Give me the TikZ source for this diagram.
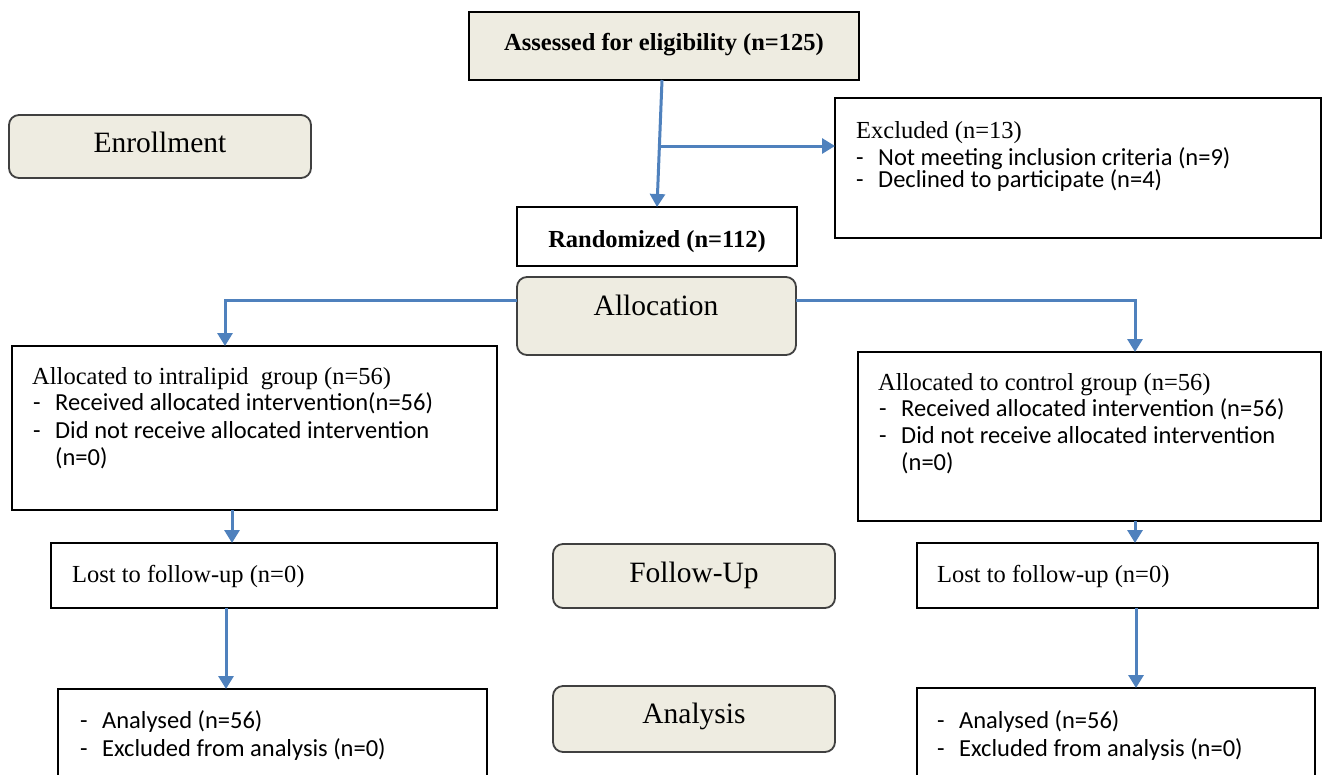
\documentclass[tikz,border=0pt]{standalone}
\usepackage{fontspec}
\setmainfont{Liberation Serif}
\newfontfamily\calfont{Carlito}
\usetikzlibrary{arrows.meta,fit,calc}
\definecolor{beige}{HTML}{EEECE1}
\definecolor{arrblue}{HTML}{4F81BD}
\tikzset{
  box/.style={draw=black, line width=2.4pt, inner sep=0pt, outer sep=0pt, fill=white},
  stagebox/.style={draw=black!75, line width=1.8pt, rounded corners=10pt, fill=beige, inner sep=0pt, outer sep=0pt},
  tanbox/.style={draw=black, line width=2.4pt, fill=beige, inner sep=0pt, outer sep=0pt},
  arr/.style={draw=arrblue, line width=3pt, -{Triangle[width=15pt,length=13pt]}},
  ser/.style={inner sep=0pt, anchor=base west, font=\fontsize{24.5}{26}\selectfont},
  bld/.style={inner sep=0pt, anchor=base, font=\fontsize{24.5}{26}\selectfont\bfseries},
  stage/.style={inner sep=0pt, anchor=base, font=\fontsize{29.5}{32}\selectfont},
  cal/.style={inner sep=0pt, anchor=base west, font=\fontsize{24.5}{26}\selectfont\calfont},
}
\newcommand{\dashitem}[1]{\makebox[22pt][l]{-}#1}
\begin{document}
\begin{tikzpicture}[x=1pt,y=-1pt]
\useasboundingbox (0,0) rectangle (1324,774);
\clip (0,0) rectangle (1324,774);
\fill[white] (0,0) rectangle (1324,774);

% boxes
\node[tanbox, fit={(469,12) (859,80)}] (as) {};
\node[stagebox, fit={(9,115) (311,178)}] (enr) {};
\node[box, fit={(835,98) (1321,238)}] (exc) {};
\node[box, fit={(517,207) (797,266)}] (rand) {};
\node[stagebox, fit={(517,277) (796,355)}] (alloc) {};
\node[box, fit={(12,346) (497,510)}] (intra) {};
\node[box, fit={(858,352) (1321,521)}] (ctrl) {};
\node[box, fit={(51,543) (497,608)}] (lostL) {};
\node[stagebox, fit={(553,544) (835,608)}] (fu) {};
\node[box, fit={(917,543) (1318,608)}] (lostR) {};
\node[box, fit={(58,689) (487,800)}] (anL) {};
\node[stagebox, fit={(553,686) (835,752)}] (ana) {};
\node[box, fit={(917,688) (1315,800)}] (anR) {};

% texts
\node[bld] (tas) at (664,50) {Assessed for eligibility (n=125)};
\node[bld] (trand) at (657,247) {Randomized (n=112)};
\node[stage] (tenr) at (160,152) {Enrollment};
\node[stage] (talloc) at (656,315) {Allocation};
\node[stage] (tfu) at (694,582) {Follow-Up};
\node[stage] (tana) at (694,723) {Analysis};

\node[ser] (ex0) at (856,138) {Excluded (n=13)};
\node[cal] (ex1) at (856,165) {\dashitem{Not meeting inclusion criteria (n=9)}};
\node[cal] (ex2) at (856,187) {\dashitem{Declined to participate (n=4)}};

\node[ser] (in0) at (32,384) {Allocated to intralipid~ group (n=56)};
\node[cal] (in1) at (33,410) {\dashitem{Received allocated intervention(n=56)}};
\node[cal] (in2) at (33,438) {\dashitem{Did not receive allocated intervention}};
\node[cal] (in3) at (55,465) {(n=0)};

\node[ser] (ct0) at (878,390) {Allocated to control group (n=56)};
\node[cal] (ct1) at (879,416) {\dashitem{Received allocated intervention (n=56)}};
\node[cal] (ct2) at (879,443) {\dashitem{Did not receive allocated intervention}};
\node[cal] (ct3) at (901,470) {(n=0)};

\node[ser] (lL) at (72,582) {Lost to follow-up (n=0)};
\node[ser] (lR) at (937,582) {Lost to follow-up (n=0)};

\node[cal] (aL1) at (80,728) {\dashitem{Analysed (n=56)}};
\node[cal] (aL2) at (80,756) {\dashitem{Excluded from analysis (n=0)}};
\node[cal] (aR1) at (937,728) {\dashitem{Analysed (n=56)}};
\node[cal] (aR2) at (937,756) {\dashitem{Excluded from analysis (n=0)}};

% connectors
\coordinate (br) at (659.5,146);
\draw[arr] ([xshift=-2pt]as.south) -- (rand.north);
\draw[arr] (br) -- (br -| exc.west);

\draw[arr] ([yshift=16pt]alloc.west) -| ([xshift=-29.5pt]intra.north);
\draw[arr] ([yshift=16pt]alloc.east) -| ([xshift=45.5pt]ctrl.north);

\coordinate (cL1) at (232,0);
\coordinate (cL2) at (226,0);
\coordinate (cR1) at (1135,0);
\coordinate (cR2) at (1136,0);
\draw[arr] (intra.south -| cL1) -- (lostL.north -| cL1);
\draw[arr] (lostL.south -| cL2) -- (anL.north -| cL2);
\draw[arr] (ctrl.south -| cR1) -- (lostR.north -| cR1);
\draw[arr] (lostR.south -| cR2) -- (anR.north -| cR2);
\end{tikzpicture}
\end{document}
